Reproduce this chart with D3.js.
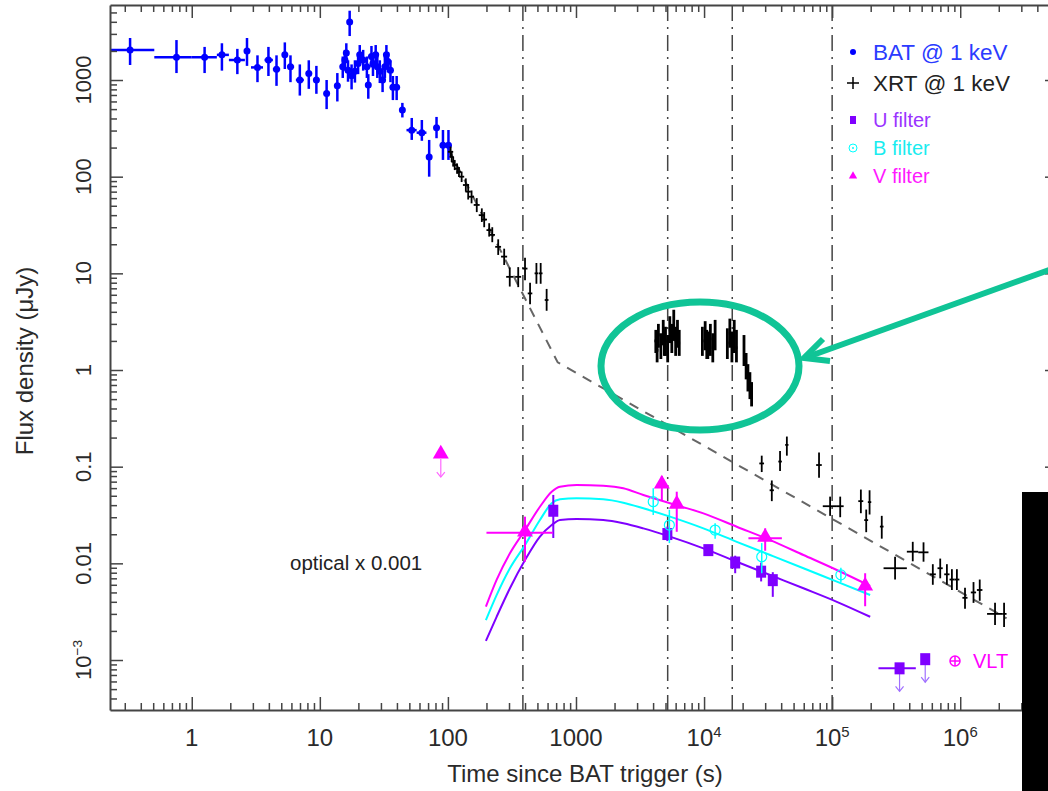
<!DOCTYPE html>
<html lang="en">
<head>
<meta charset="UTF-8">
<title>GRB light curve</title>
<script src="https://cdn.jsdelivr.net/npm/d3@7"></script>
<style>
    body { margin: 0; background: #fff; }
    svg { display: block; font-family: Arial, "Liberation Sans", sans-serif; }
    .axis .domain { stroke: #444; stroke-width: 2px; }
    .axis .tick line { stroke: #444; stroke-width: 1.5px; }
    .tick-label { fill: #2a2a2a; }
    .break-line { stroke: #444; stroke-width: 1.5px; stroke-dasharray: 16,6,2,6; fill: none; }
    .model { stroke: #666; stroke-width: 2px; stroke-dasharray: 10,8; fill: none; }
    .fit { fill: none; stroke-width: 2px; }
</style>
</head>
<body>
<svg width="1048" height="791"></svg>
<script>

    // ---- data: rows are [t, flux, tLo, tHi, fLo, fHi] ----
    var batRows = [
        [0.33, 2040, 0.23, 0.51, 1430, 2720],
        [0.76, 1720, 0.51, 1.0, 1180, 2590],
        [1.26, 1720, 1.0, 1.57, 1180, 2200],
        [1.72, 1820, 1.57, 1.95, 1250, 2400],
        [2.27, 1610, 1.95, 2.6, 1150, 2100],
        [2.7, 2000, 2.6, 2.8, 1400, 2720],
        [3.26, 1350, 2.9, 3.6, 950, 1800],
        [3.97, 1610, 3.7, 4.3, 1100, 2200],
        [4.59, 1290, 4.3, 4.9, 870, 1800],
        [5.33, 1820, 5.1, 5.6, 1300, 2450],
        [5.9, 1370, 5.6, 6.3, 950, 1800],
        [6.98, 1000, 6.5, 7.5, 690, 1450],
        [8.2, 1170, 7.8, 8.7, 810, 1600],
        [9.4, 1000, 9.0, 9.9, 720, 1400],
        [11.3, 727, 10.8, 11.8, 500, 1000],
        [13.7, 870, 13.1, 14.3, 600, 1180],
        [17.1, 3990, 16.9, 17.3, 2850, 5210],
        [15.1, 1370, 14.9, 15.3, 1050, 1750],
        [15.7, 1610, 15.5, 15.9, 1250, 2050],
        [16.1, 1900, 15.9, 16.3, 1500, 2400],
        [16.6, 1260, 16.4, 16.8, 960, 1600],
        [17.7, 1110, 17.5, 17.9, 800, 1450],
        [18.8, 1230, 18.6, 19.0, 940, 1600],
        [19.9, 1480, 19.7, 20.1, 1150, 1900],
        [20.5, 1820, 20.3, 20.7, 1450, 2300],
        [21.8, 1610, 21.6, 22.0, 1250, 2050],
        [23.3, 1370, 23.1, 23.5, 1050, 1750],
        [23.9, 890, 23.7, 24.1, 640, 1150],
        [25.3, 1750, 25.1, 25.5, 1350, 2250],
        [26.0, 1480, 25.8, 26.2, 1100, 1900],
        [27.3, 1820, 27.1, 27.5, 1400, 2300],
        [28.1, 1370, 27.9, 28.3, 1050, 1750],
        [29.4, 1230, 29.2, 29.6, 930, 1600],
        [30.9, 1000, 30.7, 31.1, 750, 1300],
        [32.2, 1370, 32.0, 32.4, 1050, 1750],
        [33.1, 1820, 32.9, 33.3, 1450, 2300],
        [34.0, 1550, 33.8, 34.2, 1200, 1950],
        [35.6, 1260, 35.4, 35.8, 950, 1600],
        [37.2, 840, 36.6, 37.8, 620, 1100],
        [39.8, 840, 39.2, 40.4, 620, 1100],
        [44.1, 490, 42.5, 45.7, 410, 580],
        [52.2, 303, 47.5, 57, 240, 405],
        [62.6, 285, 57, 68, 235, 386],
        [71.4, 160, 69, 74, 100, 240],
        [81.5, 320, 79, 84, 250, 415],
        [91.5, 211, 89, 94, 149, 304],
        [101, 211, 98, 104, 149, 304]
    ];

    var xrtRows = [
        [105, 181, 100, 110, 160, 205],
        [107, 160, 103, 111, 142, 180],
        [110, 143, 106, 114, 127, 161],
        [113, 132, 109, 118, 117, 149],
        [118, 121, 113, 123, 107, 137],
        [122, 112, 117, 127, 99, 126],
        [128, 100, 122, 134, 88, 113],
        [138, 82, 131, 145, 70, 96],
        [144, 70, 137, 151, 58, 84],
        [153, 62, 146, 160, 53, 72],
        [168, 51, 159, 177, 43, 60],
        [184, 40, 174, 194, 34, 47],
        [192, 36, 183, 202, 30, 43],
        [210, 28, 200, 220, 24, 33],
        [222, 25, 211, 233, 21, 30],
        [247, 18.8, 234, 260, 15.5, 22.5],
        [275, 14.9, 260, 290, 12.2, 18],
        [304, 9.2, 285, 323, 7.3, 11.5],
        [354, 9.2, 335, 373, 7.2, 11.6],
        [400, 11.2, 382, 418, 8.5, 14.5],
        [438, 6.2, 420, 456, 4.8, 8.0],
        [491, 10, 475, 507, 7.8, 12.8],
        [530, 10, 512, 548, 7.8, 12.8],
        [590, 5.3, 570, 610, 4.1, 6.9]
    ];

    // the circled flaring segment
    var xrtFlareRows = [
        [4200, 2.0, 4100, 4300, 1.5, 2.6],
        [4300, 1.6, 4200, 4400, 1.2, 2.1],
        [4400, 2.3, 4300, 4500, 1.7, 3.0],
        [4600, 1.8, 4500, 4700, 1.3, 2.4],
        [4800, 2.5, 4700, 4900, 1.8, 3.3],
        [4900, 1.9, 4800, 5000, 1.4, 2.5],
        [5000, 2.0, 4900, 5100, 1.4, 2.8],
        [5200, 1.7, 5100, 5300, 1.2, 2.3],
        [5400, 2.6, 5300, 5500, 1.9, 3.6],
        [5600, 2.2, 5500, 5700, 1.5, 3.0],
        [5800, 2.9, 5700, 5900, 2.0, 4.2],
        [6000, 2.0, 5900, 6100, 1.4, 2.8],
        [6200, 2.4, 6100, 6300, 1.7, 3.3],
        [6400, 1.9, 6300, 6500, 1.4, 2.6],
        [9700, 2.0, 9500, 9900, 1.4, 2.8],
        [10200, 2.3, 10000, 10400, 1.6, 3.2],
        [10500, 1.9, 10300, 10700, 1.3, 2.6],
        [10700, 1.8, 10500, 10900, 1.3, 2.5],
        [11200, 2.1, 11000, 11400, 1.4, 3.0],
        [11700, 1.7, 11500, 11900, 1.2, 2.4],
        [12200, 2.2, 12000, 12400, 1.6, 3.3],
        [15200, 1.9, 14900, 15500, 1.3, 2.7],
        [15900, 2.4, 15600, 16200, 1.7, 3.4],
        [16500, 1.8, 16200, 16800, 1.2, 2.5],
        [17200, 2.2, 16900, 17500, 1.5, 3.3],
        [17900, 1.7, 17600, 18200, 1.2, 2.6],
        [20500, 1.6, 20200, 20800, 1.1, 2.3],
        [21300, 1.1, 21000, 21600, 0.8, 1.5],
        [22000, 0.85, 21700, 22300, 0.6, 1.15],
        [22800, 0.7, 22500, 23100, 0.5, 0.95],
        [23500, 0.55, 23200, 23800, 0.42, 0.75]
    ];

    var xrtLateRows = [
        [28200, 0.108, 27000, 29400, 0.088, 0.13],
        [33800, 0.057, 32500, 35100, 0.044, 0.072],
        [39200, 0.113, 38000, 40500, 0.09, 0.145],
        [44300, 0.168, 43000, 45600, 0.13, 0.205],
        [79000, 0.104, 75000, 83000, 0.077, 0.14],
        [96400, 0.039, 84500, 109000, 0.031, 0.049],
        [115600, 0.039, 109000, 123000, 0.030, 0.049],
        [167600, 0.044, 160000, 175000, 0.033, 0.058],
        [184500, 0.028, 178000, 191000, 0.021, 0.036],
        [196000, 0.043, 190000, 202000, 0.032, 0.057],
        [244000, 0.024, 236000, 252000, 0.018, 0.031],
        [310000, 0.0089, 252000, 383000, 0.0068, 0.0117],
        [426000, 0.0132, 383000, 470000, 0.0105, 0.0167],
        [517000, 0.013, 470000, 565000, 0.0104, 0.0165],
        [611000, 0.0077, 580000, 645000, 0.006, 0.0098],
        [698000, 0.0089, 665000, 730000, 0.007, 0.0112],
        [787000, 0.0077, 750000, 825000, 0.006, 0.0098],
        [861000, 0.0068, 825000, 900000, 0.0053, 0.0087],
        [942000, 0.0068, 900000, 985000, 0.0053, 0.0087],
        [1.09e6, 0.0044, 1.04e6, 1.14e6, 0.0034, 0.0056],
        [1.27e6, 0.005, 1.21e6, 1.33e6, 0.0039, 0.0064],
        [1.42e6, 0.0053, 1.35e6, 1.49e6, 0.0041, 0.0068],
        [1.87e6, 0.003, 1.62e6, 2.15e6, 0.0023, 0.0039],
        [2.2e6, 0.003, 2.15e6, 2.3e6, 0.0022, 0.0039]
    ];

    // optical (scaled by 0.001)
    var uRows = [
        [665, 0.035, 650, 680, 0.0183, 0.051],
        [5170, 0.0201, 5100, 5240, 0.017, 0.024],
        [10800, 0.0137, 10600, 11000, 0.0125, 0.015],
        [17500, 0.0102, 17200, 17800, 0.0079, 0.012],
        [27900, 0.0082, 27500, 28300, 0.0065, 0.0102],
        [34400, 0.0067, 34000, 34800, 0.0045, 0.0081]
    ];
    var uLimits = [
        [336000, 0.00082, 230000, 450000],
        [533000, 0.00102, 533000, 533000]
    ];
    var bRows = [
        [4010, 0.0434, 4010, 4010, 0.0316, 0.0598],
        [5360, 0.0249, 5360, 5360, 0.0162, 0.0358],
        [12200, 0.0221, 12200, 12200, 0.018, 0.026],
        [28200, 0.0117, 28200, 28200, 0.0079, 0.0162],
        [117000, 0.0076, 117000, 117000, 0.0064, 0.009]
    ];
    var vRows = [
        [400, 0.0207, 200, 660, 0.0104, 0.0304],
        [4680, 0.0646, 4680, 4680, 0.045, 0.080],
        [6120, 0.0401, 6120, 6120, 0.0212, 0.0551],
        [30000, 0.0182, 22200, 40500, 0.0135, 0.023],
        [181000, 0.0057, 181000, 181000, 0.0036, 0.0079]
    ];
    var vLimits = [[88, 0.132]];

    // fitted optical light curves
    var fitT = [198, 240, 305, 400, 523, 646, 750, 1012, 1633, 2342, 3357, 5420, 9880, 18000, 32800, 59700, 108800, 198000];
    var fitV = [0.00356, 0.00673, 0.0127, 0.0221, 0.0385, 0.0551, 0.0621, 0.0646, 0.0635, 0.0598, 0.0509, 0.0418, 0.0329, 0.0239, 0.0174, 0.0122, 0.00853, 0.00583];
    var fitB = [0.00259, 0.0047, 0.0089, 0.0155, 0.0281, 0.0418, 0.046, 0.0471, 0.046, 0.0424, 0.0371, 0.0304, 0.023, 0.0167, 0.0122, 0.0089, 0.00646, 0.0047];
    var fitU = [0.00158, 0.0028, 0.00552, 0.0108, 0.0189, 0.0249, 0.0281, 0.0288, 0.0281, 0.026, 0.023, 0.0189, 0.0143, 0.0104, 0.00757, 0.00552, 0.004, 0.0028];

    // X-ray broken power-law model
    var modelT = [100, 720, 2.3e6];
    var modelF = [200, 1.2, 0.0027];

    var breakTimes = [385, 5200, 16600, 1e5];

    var xTicks = [1, 10, 100, 1000, 1e4, 1e5, 1e6];
    var xTickLabels = ['1', '10', '100', '1000', '10^4', '10^5', '10^6'];
    var yTicks = [1e-3, 0.01, 0.1, 1, 10, 100, 1000];
    var yTickLabels = ['10^\u22123', '0.01', '0.1', '1', '10', '100', '1000'];

    var legendLabels = ['BAT @ 1 keV', 'XRT @ 1 keV', 'U filter', 'B filter', 'V filter'];
    var legendColors = ['#2b3bff', '#222', '#9a33ff', '#19ecf0', '#ff1aff'];

    var colBat = '#0000ff', colXrt = '#000', colU = '#7f00ff', colB = '#00ffff', colV = '#ff00ff';

    // ---- layout ----
    var svg = d3.select('svg');
    var pLeft = 110, pRight = 1058, pTop = 5, pBottom = 710;

    var x = d3.scaleLog().domain([0.23, 5.8e6]).range([pLeft, pRight]);
    var y = d3.scaleLog().domain([3.04e-4, 5970]).range([pBottom, pTop]);

    svg.append('rect').attr('width', 1048).attr('height', 791).attr('fill', '#fff');

    svg.append('clipPath').attr('id', 'plot-clip')
        .append('rect')
        .attr('x', pLeft).attr('y', pTop)
        .attr('width', pRight - pLeft).attr('height', pBottom - pTop);

    var plot = svg.append('g').attr('clip-path', 'url(#plot-clip)');

    // ---- axes (ticks inside) ----
    var minorX = x.ticks().filter(function (d) { return xTicks.indexOf(d) < 0; });
    var minorY = y.ticks().filter(function (d) { return yTicks.indexOf(d) < 0; });

    function addAxis(axisFn, scale, pos, majors, minors) {
        var g = svg.append('g').attr('class', 'axis').attr('transform', pos);
        g.call(axisFn(scale).tickValues(majors).tickSizeInner(-13).tickSizeOuter(0).tickFormat(''));
        var gm = svg.append('g').attr('class', 'axis').attr('transform', pos);
        gm.call(axisFn(scale).tickValues(minors).tickSizeInner(-7).tickSizeOuter(0).tickFormat(''));
        gm.select('.domain').remove();
    }
    addAxis(d3.axisBottom, x, 'translate(0,' + pBottom + ')', xTicks, minorX);
    addAxis(d3.axisTop, x, 'translate(0,' + pTop + ')', xTicks, minorX);
    addAxis(d3.axisLeft, y, 'translate(' + pLeft + ',0)', yTicks, minorY);
    addAxis(d3.axisRight, y, 'translate(' + pRight + ',0)', yTicks, minorY);

    function setLabel(sel, txt) {
        var parts = txt.split('^');
        sel.text(parts[0]);
        if (parts[1]) {
            sel.append('tspan').attr('dy', -9).attr('font-size', '0.62em').text(parts[1]);
        }
    }

    svg.selectAll('.xlab').data(xTicks).enter().append('text')
        .attr('class', 'xlab tick-label')
        .attr('x', function (d) { return x(d); })
        .attr('y', 746)
        .attr('text-anchor', 'middle')
        .attr('font-size', 24)
        .each(function (d, i) { setLabel(d3.select(this), xTickLabels[i]); });

    svg.selectAll('.ylab').data(yTicks).enter().append('text')
        .attr('class', 'ylab tick-label')
        .attr('transform', function (d) { return 'translate(91,' + y(d) + ') rotate(-90)'; })
        .attr('text-anchor', 'middle')
        .attr('font-size', 22)
        .each(function (d, i) { setLabel(d3.select(this), yTickLabels[i]); });

    svg.append('text')
        .attr('class', 'tick-label')
        .attr('x', 585).attr('y', 782)
        .attr('text-anchor', 'middle')
        .attr('font-size', 24)
        .text('Time since BAT trigger (s)');

    svg.append('text')
        .attr('class', 'tick-label')
        .attr('transform', 'translate(33,361) rotate(-90)')
        .attr('text-anchor', 'middle')
        .attr('font-size', 24)
        .text('Flux density (\u03bcJy)');

    // ---- break times ----
    plot.selectAll('.break-line').data(breakTimes).enter().append('line')
        .attr('class', 'break-line')
        .attr('x1', function (d) { return x(d); })
        .attr('x2', function (d) { return x(d); })
        .attr('y1', pTop).attr('y2', pBottom);

    // ---- model ----
    var modelPts = modelT.map(function (t, i) { return [t, modelF[i]]; });
    plot.append('path').attr('class', 'model')
        .attr('d', d3.line().x(function (d) { return x(d[0]); }).y(function (d) { return y(d[1]); })(modelPts));

    // ---- fitted optical curves ----
    var fitLine = d3.line()
        .x(function (d) { return x(d[0]); })
        .y(function (d) { return y(d[1]); })
        .curve(d3.curveMonotoneX);
    [[fitU, colU], [fitB, colB], [fitV, colV]].forEach(function (c) {
        var pts = fitT.map(function (t, i) { return [t, c[0][i]]; });
        plot.append('path').attr('class', 'fit').attr('stroke', c[1]).attr('d', fitLine(pts));
    });

    // ---- error crosses ----
    function crosses(rows, color, sw) {
        var g = plot.append('g').attr('stroke', color).attr('stroke-width', sw);
        g.selectAll('.ev').data(rows).enter().append('line')
            .attr('class', 'ev')
            .attr('x1', function (d) { return x(d[0]); })
            .attr('x2', function (d) { return x(d[0]); })
            .attr('y1', function (d) { return y(d[4]); })
            .attr('y2', function (d) { return y(d[5]); });
        g.selectAll('.eh').data(rows).enter().append('line')
            .attr('class', 'eh')
            .attr('x1', function (d) { return x(d[2]); })
            .attr('x2', function (d) { return x(d[3]); })
            .attr('y1', function (d) { return y(d[1]); })
            .attr('y2', function (d) { return y(d[1]); });
        return g;
    }

    crosses(batRows, colBat, 2.5);
    plot.append('g').selectAll('circle').data(batRows).enter().append('circle')
        .attr('cx', function (d) { return x(d[0]); })
        .attr('cy', function (d) { return y(d[1]); })
        .attr('r', 3.5).attr('fill', colBat);

    crosses(xrtRows, colXrt, 1.8);
    crosses(xrtFlareRows, colXrt, 2.8);
    crosses(xrtLateRows, colXrt, 1.8);

    // optical points
    crosses(uRows, colU, 2);
    plot.append('g').selectAll('rect').data(uRows).enter().append('rect')
        .attr('x', function (d) { return x(d[0]) - 5; })
        .attr('y', function (d) { return y(d[1]) - 6; })
        .attr('width', 10).attr('height', 12).attr('fill', colU);

    crosses(bRows, colB, 1.5);
    plot.append('g').selectAll('circle').data(bRows).enter().append('circle')
        .attr('cx', function (d) { return x(d[0]); })
        .attr('cy', function (d) { return y(d[1]); })
        .attr('r', 5).attr('fill', 'none').attr('stroke', colB).attr('stroke-width', 1.2);

    crosses(vRows, colV, 2);
    var tri = d3.symbol().type(d3.symbolTriangle).size(110);
    plot.append('g').selectAll('path').data(vRows).enter().append('path')
        .attr('d', tri)
        .attr('transform', function (d) { return 'translate(' + x(d[0]) + ',' + (y(d[1]) - 1) + ')'; })
        .attr('fill', colV);

    // upper limits
    function limitArrow(g, px, py, color) {
        g.append('line').attr('x1', px).attr('x2', px).attr('y1', py).attr('y2', py + 18)
            .attr('stroke', color).attr('stroke-width', 1.2);
        g.append('path').attr('d', 'M' + (px - 4) + ',' + (py + 13) + 'L' + px + ',' + (py + 18) + 'L' + (px + 4) + ',' + (py + 13))
            .attr('stroke', color).attr('stroke-width', 1.2).attr('fill', 'none');
    }
    var limG = plot.append('g');
    uLimits.forEach(function (d) {
        limG.append('line').attr('x1', x(d[2])).attr('x2', x(d[3]))
            .attr('y1', y(d[1])).attr('y2', y(d[1]))
            .attr('stroke', colU).attr('stroke-width', 2);
        limitArrow(limG, x(d[0]), y(d[1]) + 5, '#a070ff');
        limG.append('rect').attr('x', x(d[0]) - 5).attr('y', y(d[1]) - 6)
            .attr('width', 10).attr('height', 12).attr('fill', colU);
    });
    vLimits.forEach(function (d) {
        limitArrow(limG, x(d[0]), y(d[1]) + 4, '#ff66ff');
        limG.append('path').attr('d', tri)
            .attr('transform', 'translate(' + x(d[0]) + ',' + (y(d[1]) - 1) + ')')
            .attr('fill', colV);
    });

    // VLT marker
    var vltG = svg.append('g').attr('stroke', colV).attr('stroke-width', 1.5).attr('fill', 'none');
    vltG.append('circle').attr('cx', 955).attr('cy', 661).attr('r', 5);
    vltG.append('line').attr('x1', 950).attr('x2', 960).attr('y1', 661).attr('y2', 661);
    vltG.append('line').attr('x1', 955).attr('x2', 955).attr('y1', 656).attr('y2', 666);
    svg.append('text').attr('x', 973).attr('y', 668).attr('font-size', 20)
        .attr('fill', colV).text('VLT');

    svg.append('text').attr('x', 290).attr('y', 570).attr('font-size', 20.5)
        .attr('fill', '#222').text('optical x 0.001');

    // ---- legend ----
    var legY = [52, 83, 120, 148, 176];
    var legSize = [22.5, 22.5, 20, 20, 20];
    var leg = svg.append('g');
    legendLabels.forEach(function (lab, i) {
        leg.append('text').attr('x', 873).attr('y', legY[i] + legSize[i] * 0.36)
            .attr('font-size', legSize[i]).attr('fill', legendColors[i]).text(lab);
    });
    leg.append('circle').attr('cx', 853).attr('cy', legY[0]).attr('r', 3).attr('fill', colBat);
    leg.append('path').attr('d', 'M847,' + legY[1] + 'h12M853,' + (legY[1] - 6) + 'v12')
        .attr('stroke', '#000').attr('stroke-width', 1.5);
    leg.append('rect').attr('x', 850).attr('y', legY[2] - 4).attr('width', 6).attr('height', 8).attr('fill', colU);
    leg.append('circle').attr('cx', 853).attr('cy', legY[3]).attr('r', 4)
        .attr('fill', 'none').attr('stroke', colB).attr('stroke-width', 1);
    leg.append('circle').attr('cx', 853).attr('cy', legY[3]).attr('r', 1).attr('fill', colB);
    leg.append('path').attr('d', d3.symbol().type(d3.symbolTriangle).size(30))
        .attr('transform', 'translate(853,' + legY[4] + ')').attr('fill', colV);

    // ---- annotation ----
    var green = '#10c496';
    svg.append('ellipse').attr('cx', 700).attr('cy', 366).attr('rx', 99).attr('ry', 64)
        .attr('fill', 'none').attr('stroke', green).attr('stroke-width', 7);
    svg.append('line').attr('x1', 1060).attr('y1', 266).attr('x2', 810).attr('y2', 356)
        .attr('stroke', green).attr('stroke-width', 6);
    svg.append('path').attr('d', 'M830,361L804,358L823,339')
        .attr('fill', 'none').attr('stroke', green).attr('stroke-width', 6)
        .attr('stroke-linejoin', 'miter');

    svg.append('rect').attr('x', 1022).attr('y', 492).attr('width', 26).attr('height', 299).attr('fill', '#000');

</script>
</body>
</html>
